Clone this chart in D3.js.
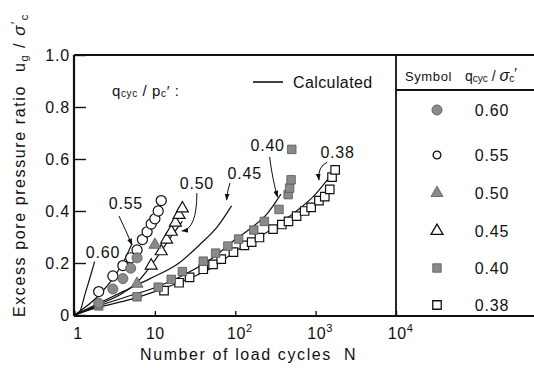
<!DOCTYPE html>
<html><head><meta charset="utf-8">
<script src="https://cdn.jsdelivr.net/npm/d3@7"></script>
<style>
body{margin:0;background:#fff}
svg{display:block}
text{font-family:"Liberation Sans",Arial,Helvetica,sans-serif;fill:#111}
</style>
</head><body>
<svg id="c" width="534" height="368"></svg>
<script>
// ---------- data ----------
const xTicks = [1, 10, 100, 1000, 10000];
const xTickBase = ["1", "10", "10", "10", "10"];
const xTickExp = ["", "", "2", "3", "4"];
const yTicks = [0, 0.2, 0.4, 0.6, 0.8, 1.0];
const yTickLabels = ["0", "0.2", "0.4", "0.6", "0.8", "1.0"];

// measured points (N, ratio)
const fc60N = [2, 3, 4, 5, 6];
const fc60R = [0.045, 0.10, 0.14, 0.18, 0.22];
const oc55N = [2, 3, 4, 5, 6, 7, 8, 9, 10, 11, 12];
const oc55R = [0.09, 0.15, 0.19, 0.22, 0.25, 0.29, 0.32, 0.35, 0.37, 0.40, 0.44];
const ft50N = [6, 10];
const ft50R = [0.12, 0.27];
const ot45N = [9, 12, 14, 16, 18, 20, 22];
const ot45R = [0.19, 0.245, 0.29, 0.32, 0.355, 0.385, 0.41];
const fs40N = [2, 6, 11, 16, 22, 40, 57, 81, 110, 170, 230, 350, 455, 475, 495, 505];
const fs40R = [0.035, 0.07, 0.107, 0.137, 0.167, 0.207, 0.238, 0.265, 0.292, 0.327, 0.36, 0.406, 0.463, 0.488, 0.52, 0.637];
const os38N = [13, 20, 27, 40, 53, 67, 95, 130, 160, 200, 295, 380, 460, 580, 730, 880, 1100, 1300, 1500, 1600, 1750];
const os38R = [0.094, 0.124, 0.145, 0.176, 0.195, 0.215, 0.242, 0.268, 0.28, 0.298, 0.33, 0.348, 0.36, 0.38, 0.40, 0.414, 0.44, 0.455, 0.483, 0.53, 0.558];

// calculated curves
const calc60N = [1, 1.13, 1.36, 1.57, 1.78];
const calc60R = [0, 0.006, 0.083, 0.147, 0.205];
const calc55N = [1, 2, 3, 4, 5.2];
const calc55R = [0, 0.075, 0.14, 0.2, 0.275];
const calc50N = [1, 2, 4, 6, 10, 15, 22];
const calc50R = [0, 0.04, 0.085, 0.125, 0.21, 0.29, 0.36];
const calc45N = [1, 2, 4, 8.7, 20, 36, 60, 90];
const calc45R = [0, 0.045, 0.09, 0.14, 0.2, 0.27, 0.34, 0.42];
const calc40N = [1, 2, 5, 10, 20, 50, 100, 150, 250, 370];
const calc40R = [0, 0.035, 0.075, 0.105, 0.145, 0.215, 0.29, 0.33, 0.39, 0.465];
const calc38N = [1, 2, 5, 10, 20, 50, 114, 200, 500, 1000, 1500];
const calc38R = [0, 0.03, 0.06, 0.09, 0.125, 0.18, 0.256, 0.30, 0.385, 0.465, 0.532];

// legend table
const tableValues = ["0.60", "0.55", "0.50", "0.45", "0.40", "0.38"];
const tableSymbols = ["fcircle", "ocircle", "ftri", "otri", "fsquare", "osquare"];

// ---------- drawing ----------
const svg = d3.select("#c");
const x = d3.scaleLog().domain([1, 10000]).range([74.5, 396]);
const y = d3.scaleLinear().domain([0, 1]).range([315, 55]);
const zip = (a, b) => a.map((v, i) => [v, b[i]]);
const INK = "#111", GRAY = "#8a8a8a";

// arrow marker
svg.append("defs").append("marker").attr("id", "arr")
  .attr("viewBox", "0 0 10 10").attr("refX", 9).attr("refY", 5)
  .attr("markerWidth", 7).attr("markerHeight", 7).attr("orient", "auto")
  .append("path").attr("d", "M0,1.5 L10,5 L0,8.5 Z").attr("fill", INK);

// frame
const fr = svg.append("g").attr("stroke", INK).attr("stroke-width", 1.8).attr("fill", "none");
fr.append("line").attr("x1", x(1) - 0.5).attr("x2", 534).attr("y1", y(1)).attr("y2", y(1));
fr.append("line").attr("x1", x(1) - 0.5).attr("x2", 534).attr("y1", y(0)+1).attr("y2", y(0)+1);
fr.append("line").attr("x1", x(10000)).attr("x2", x(10000)).attr("y1", y(1)).attr("y2", y(0)+1);
fr.append("line").attr("x1", x(10000)).attr("x2", 534).attr("y1", 90).attr("y2", 90);

// y axis
const yAx = svg.append("g").attr("transform", `translate(${x(1) - 0.5},0)`)
  .call(d3.axisLeft(y).tickValues(yTicks).tickSize(-12).tickPadding(4)
    .tickFormat((d, i) => yTickLabels[i]));
yAx.select(".domain").attr("stroke", INK).attr("stroke-width", 2.2).attr("d", `M0,${y(1)}V${y(0)+1}`);
yAx.selectAll(".tick line").attr("stroke", INK).attr("stroke-width", 1.4);
yAx.selectAll(".tick text").attr("font-size", 16).attr("letter-spacing", 0.8).attr("fill", INK)
  .attr("font-family", '"Liberation Sans",Arial,sans-serif');

// x axis
const xAx = svg.append("g").attr("transform", `translate(0,${y(0) + 1})`)
  .call(d3.axisBottom(x).tickValues(xTicks).tickSize(-5).tickPadding(6).tickFormat(() => ""));
xAx.select(".domain").remove();
xAx.selectAll(".tick line").attr("stroke", INK).attr("stroke-width", 1.4);
xAx.selectAll(".tick").each(function (d, i) {
  const t = d3.select(this).select("text").attr("font-size", 16).attr("letter-spacing", 0.6)
    .attr("fill", INK).attr("font-family", '"Liberation Sans",Arial,sans-serif')
    .attr("dy", "1.05em").attr("text-anchor", "middle");
  t.text(null);
  t.append("tspan").text(xTickBase[i]);
  if (xTickExp[i]) t.append("tspan").attr("font-size", 11).attr("dy", -7).text(xTickExp[i]);
  if (i === 0) t.attr("dx", 3);
  if (xTickExp[i]) t.attr("dx", 4);
});

// axis titles
svg.append("text").attr("transform", "translate(140,360)")
  .attr("font-size", 16).attr("letter-spacing", 1.6)
  .text("Number of load cycles").append("tspan").attr("dx", 12).text("N");
svg.append("text").attr("transform", "translate(25,317) rotate(-90)")
  .attr("font-size", 16).attr("letter-spacing", 1.6).text("Excess pore pressure ratio");
const yt2 = svg.append("text").attr("transform", "translate(25,72) rotate(-90)")
  .attr("font-size", 16).attr("letter-spacing", 1.5);
yt2.append("tspan").text("u");
yt2.append("tspan").attr("font-size", 11).attr("dy", 3).text("g");
yt2.append("tspan").attr("dy", -3).text(" /");
yt2.append("tspan").attr("font-style", "italic").attr("font-size", 17).text(" σ");
yt2.append("tspan").attr("font-size", 12).attr("dy", -5).text("′");
yt2.append("tspan").attr("font-size", 11).attr("dy", 8).text("c");

// calculated lines
const line = d3.line().x(d => x(d[0])).y(d => y(d[1])).curve(d3.curveMonotoneX);
const calcs = [[calc60N, calc60R], [calc55N, calc55R], [calc50N, calc50R],
               [calc45N, calc45R], [calc40N, calc40R], [calc38N, calc38R]];
svg.append("g").selectAll("path").data(calcs).join("path")
  .attr("d", c => line(zip(c[0], c[1])))
  .attr("fill", "none").attr("stroke", INK).attr("stroke-width", 1.2);

// markers
const sym = {
  fcircle: d3.symbol().type(d3.symbolCircle).size(80),
  ocircle: d3.symbol().type(d3.symbolCircle).size(80),
  ftri: d3.symbol().type(d3.symbolTriangle).size(62),
  otri: d3.symbol().type(d3.symbolTriangle).size(62),
  fsquare: d3.symbol().type(d3.symbolSquare).size(72),
  osquare: d3.symbol().type(d3.symbolSquare).size(72)
};
function drawSet(N, R, type) {
  const filled = type[0] === "f";
  svg.append("g").selectAll("path").data(zip(N, R)).join("path")
    .attr("transform", d => `translate(${x(d[0])},${y(d[1])})`)
    .attr("d", sym[type]())
    .attr("fill", filled ? GRAY : "#fff")
    .attr("stroke", filled ? "#555" : INK)
    .attr("stroke-width", filled ? 0.8 : 1.2);
}
drawSet(os38N, os38R, "osquare");
drawSet(fs40N, fs40R, "fsquare");
drawSet(ot45N, ot45R, "otri");
drawSet(oc55N, oc55R, "ocircle");
drawSet(fc60N, fc60R, "fcircle");
drawSet(ft50N, ft50R, "ftri");

// annotations (label and leader) in data coordinates
const notes = [
  {t: "0.60", at: [2.26, 0.242], lead: null},
  {t: "0.55", at: [4.36, 0.431], lead: [[3.57, 0.381], [4.3, 0.33], [5.18, 0.27]]},
  {t: "0.50", at: [33.3, 0.508], lead: [[33.3, 0.469], [33.3, 0.33], [21.7, 0.323]]},
  {t: "0.45", at: [131, 0.546], lead: [[86, 0.508], [80, 0.48], [78, 0.442]]},
  {t: "0.40", at: [253, 0.654], lead: [[268, 0.608], [290, 0.52], [336, 0.454]]},
  {t: "0.38", at: [1876, 0.627], lead: [[1400, 0.588], [1050, 0.57], [1100, 0.519]]}
];
notes.forEach(n => {
  svg.append("text").attr("x", x(n.at[0])).attr("y", y(n.at[1]) + 6)
    .attr("text-anchor", "middle").attr("font-size", 16).attr("letter-spacing", 0.8).text(n.t);
  if (n.lead) {
    const p = n.lead.map(d => [x(d[0]), y(d[1])]);
    svg.append("path").attr("d", `M${p[0]}Q${p[1]} ${p[2]}`)
      .attr("fill", "none").attr("stroke", INK).attr("stroke-width", 1)
      .attr("marker-end", "url(#arr)");
  }
});

// "Calculated" key and q/p label
svg.append("line").attr("x1", 253).attr("x2", 283).attr("y1", 82).attr("y2", 82)
  .attr("stroke", INK).attr("stroke-width", 1.6);
svg.append("text").attr("x", 293).attr("y", 88).attr("font-size", 16).attr("letter-spacing", 0.4).text("Calculated");
const qp = svg.append("text").attr("x", 112).attr("y", 96).attr("font-size", 15).attr("letter-spacing", 0.6);
qp.append("tspan").text("q");
qp.append("tspan").attr("font-size", 10).attr("dy", 1).text("cyc");
qp.append("tspan").attr("dy", -1).text(" / p");
qp.append("tspan").attr("font-size", 10).attr("dy", 1).text("c");
qp.append("tspan").attr("dy", -1).text("′ :");

// table
const th = svg.append("g");
th.append("text").attr("x", 405).attr("y", 81).attr("font-size", 13).attr("letter-spacing", 0.6).text("Symbol");
const hq = th.append("text").attr("x", 465).attr("y", 81).attr("font-size", 14);
hq.append("tspan").text("q");
hq.append("tspan").attr("font-size", 10).attr("dy", 1).text("cyc");
hq.append("tspan").attr("dy", -1).text(" / ");
hq.append("tspan").attr("font-style", "italic").attr("font-size", 16).text("σ");
hq.append("tspan").attr("font-size", 10).attr("dy", 1).text("c");
hq.append("tspan").attr("dy", -4).text("′");
const rowY = d3.scalePoint().domain(tableValues).range([110, 305]);
const rowYs = [110, 155, 193, 231, 268, 305];
tableValues.forEach((v, i) => {
  const ty = rowYs[i];
  th.append("text").attr("x", 492).attr("y", ty + 6).attr("text-anchor", "middle")
    .attr("font-size", 16).attr("letter-spacing", 0.8).text(v);
  const type = tableSymbols[i];
  const filled = type[0] === "f";
  const sz = type === "ocircle" ? 48 : sym[type].size()();
  th.append("path").attr("transform", `translate(437,${ty})`)
    .attr("d", d3.symbol().type(sym[type].type()).size(sz)())
    .attr("fill", filled ? GRAY : "#fff").attr("stroke", filled ? "#555" : INK)
    .attr("stroke-width", filled ? 0.8 : 1.3);
});
</script>
</body></html>
